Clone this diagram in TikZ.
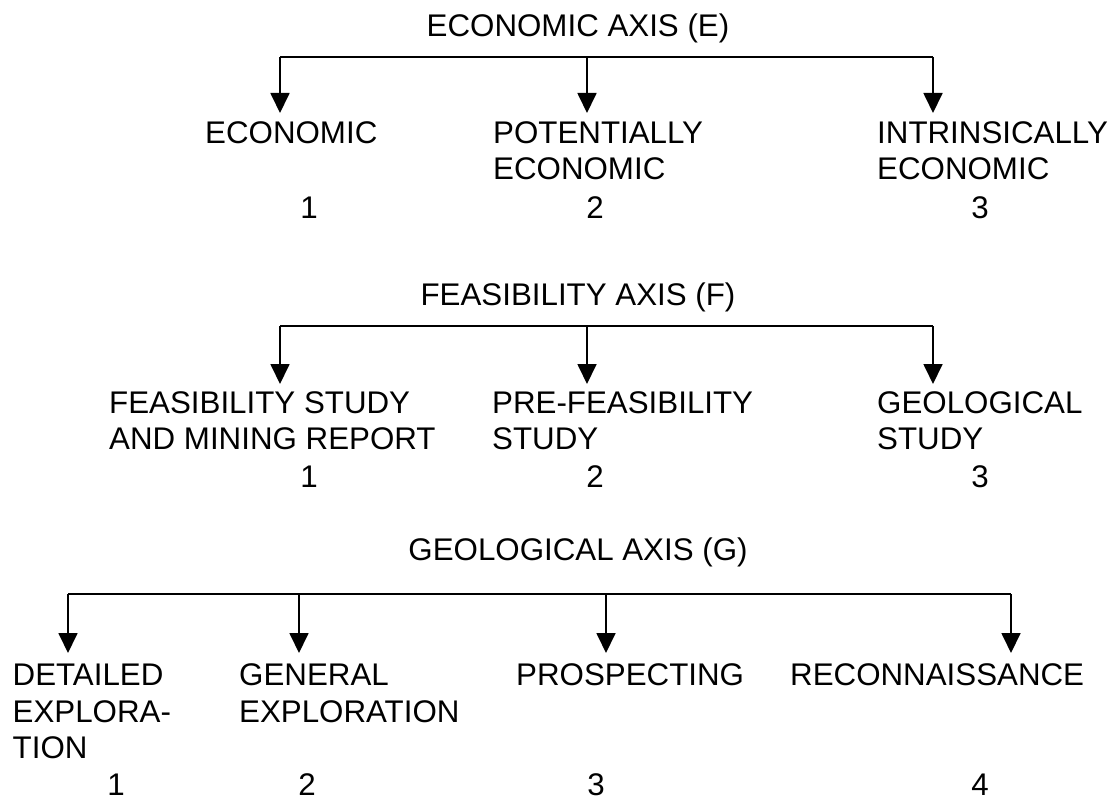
\documentclass[tikz,border=0pt]{standalone}
\usepackage{fontspec}
\setmainfont{Liberation Sans}
\usetikzlibrary{arrows.meta}
\tikzset{
  x=1pt, y=1pt,
  txt/.style={font=\fontsize{31.3}{36}\selectfont, inner sep=0pt},
  lbl/.style={txt, anchor=base west},
  num/.style={txt, anchor=base},
  ttl/.style={txt, anchor=base},
  bar/.style={line width=1.8pt},
  arr/.style={line width=1.8pt, -{Triangle[width=19pt,length=20pt]}}
}
\begin{document}
\begin{tikzpicture}
\useasboundingbox (0,0) rectangle (1119,-797);

% ---------- Economic axis ----------
\node[ttl] (te) at (578,-37) {ECONOMIC AXIS (E)};
\coordinate (eb1) at (280,-57);
\coordinate (eb2) at (587,-57);
\coordinate (eb3) at (933,-57);
\coordinate (et1) at (280,-113);
\coordinate (et2) at (587,-113);
\coordinate (et3) at (933,-113);
\draw[bar] (eb1) -- (eb3);
\draw[arr] (eb1) -- (et1);
\draw[arr] (eb2) -- (et2);
\draw[arr] (eb3) -- (et3);
\node[lbl] (e1a) at (205,-143) {ECONOMIC};
\node[lbl] (e2a) at (493,-143) {POTENTIALLY};
\node[lbl] (e2b) at (493,-179) {ECONOMIC};
\node[lbl] (e3a) at (877,-143) {INTRINSICALLY};
\node[lbl] (e3b) at (877,-179) {ECONOMIC};
\node[num] (en1) at (309,-218) {1};
\node[num] (en2) at (595,-218) {2};
\node[num] (en3) at (980,-218) {3};

% ---------- Feasibility axis ----------
\node[ttl] (tf) at (578,-305) {FEASIBILITY AXIS (F)};
\coordinate (fb1) at (280,-326);
\coordinate (fb2) at (587,-326);
\coordinate (fb3) at (933,-326);
\coordinate (ft1) at (280,-384);
\coordinate (ft2) at (587,-384);
\coordinate (ft3) at (933,-384);
\draw[bar] (fb1) -- (fb3);
\draw[arr] (fb1) -- (ft1);
\draw[arr] (fb2) -- (ft2);
\draw[arr] (fb3) -- (ft3);
\node[lbl] (f1a) at (109,-413) {FEASIBILITY STUDY};
\node[lbl] (f1b) at (109,-449) {AND MINING REPORT};
\node[lbl] (f2a) at (492,-413) {PRE-FEASIBILITY};
\node[lbl] (f2b) at (492,-449) {STUDY};
\node[lbl] (f3a) at (877,-413) {GEOLOGICAL};
\node[lbl] (f3b) at (877,-449) {STUDY};
\node[num] (fn1) at (309,-487) {1};
\node[num] (fn2) at (595,-487) {2};
\node[num] (fn3) at (980,-487) {3};

% ---------- Geological axis ----------
\node[ttl] (tg) at (578,-560) {GEOLOGICAL AXIS (G)};
\coordinate (gb1) at (68,-594);
\coordinate (gb2) at (299,-594);
\coordinate (gb3) at (606,-594);
\coordinate (gb4) at (1011,-594);
\coordinate (gt1) at (68,-653);
\coordinate (gt2) at (299,-653);
\coordinate (gt3) at (606,-653);
\coordinate (gt4) at (1011,-653);
\draw[bar] (gb1) -- (gb4);
\draw[arr] (gb1) -- (gt1);
\draw[arr] (gb2) -- (gt2);
\draw[arr] (gb3) -- (gt3);
\draw[arr] (gb4) -- (gt4);
\node[lbl] (g1a) at (12.5,-685) {DETAILED};
\node[lbl] (g1b) at (12.5,-722) {EXPLORA-};
\node[lbl] (g1c) at (12.5,-758) {TION};
\node[lbl] (g2a) at (239,-685) {GENERAL};
\node[lbl] (g2b) at (239,-722) {EXPLORATION};
\node[lbl] (g3a) at (516,-685) {PROSPECTING};
\node[lbl] (g4a) at (790,-685) {RECONNAISSANCE};
\node[num] (gn1) at (116,-795) {1};
\node[num] (gn2) at (307,-795) {2};
\node[num] (gn3) at (596,-795) {3};
\node[num] (gn4) at (980,-795) {4};
\end{tikzpicture}
\end{document}
